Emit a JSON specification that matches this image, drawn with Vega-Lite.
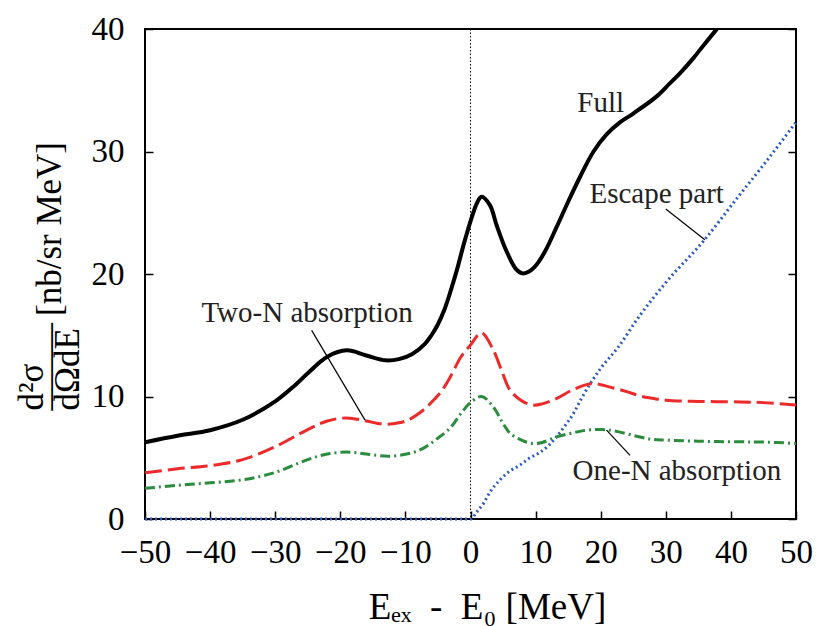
{
  "$schema": "https://vega.github.io/schema/vega-lite/v6.json",
  "width": 651,
  "height": 490,
  "autosize": {"type": "none"},
  "padding": {"left": 145, "top": 29, "right": 22, "bottom": 107},
  "background": "white",
  "config": {
    "view": {"stroke": "black", "strokeWidth": 2},
    "axis": {"grid": false, "domain": false, "ticks": true, "tickColor": "black", "tickWidth": 1.5, "tickSize": -8,
      "labelFont": "Liberation Serif", "labelFontSize": 33, "labelColor": "black", "labelOverlap": false, "labelFlush": false,
      "titleFont": "Liberation Serif", "titleFontWeight": "normal", "titleColor": "black"}
  },
  "resolve": {"axis": {"y": "independent"}},
  "datasets": {
    "curves": [
      {"E": -50, "v": 6.27, "s": "Full"}, {"E": -45, "v": 6.8, "s": "Full"}, {"E": -40, "v": 7.25, "s": "Full"},
      {"E": -35, "v": 8.1, "s": "Full"}, {"E": -30, "v": 9.6, "s": "Full"}, {"E": -27, "v": 10.9, "s": "Full"},
      {"E": -25, "v": 11.9, "s": "Full"}, {"E": -22, "v": 13.25, "s": "Full"}, {"E": -19, "v": 13.77, "s": "Full"},
      {"E": -16, "v": 13.35, "s": "Full"}, {"E": -13, "v": 12.95, "s": "Full"}, {"E": -11, "v": 13.05, "s": "Full"},
      {"E": -9, "v": 13.45, "s": "Full"}, {"E": -7, "v": 14.3, "s": "Full"}, {"E": -6, "v": 15.0, "s": "Full"},
      {"E": -5, "v": 15.9, "s": "Full"}, {"E": -4, "v": 17.1, "s": "Full"}, {"E": -3, "v": 18.7, "s": "Full"},
      {"E": -2, "v": 20.5, "s": "Full"}, {"E": -1, "v": 22.5, "s": "Full"}, {"E": 0, "v": 24.3, "s": "Full"},
      {"E": 1, "v": 25.8, "s": "Full"}, {"E": 1.7, "v": 26.3, "s": "Full"}, {"E": 3, "v": 25.6, "s": "Full"},
      {"E": 4, "v": 24.0, "s": "Full"}, {"E": 5.5, "v": 21.9, "s": "Full"}, {"E": 7, "v": 20.4, "s": "Full"},
      {"E": 8, "v": 20.05, "s": "Full"}, {"E": 9, "v": 20.2, "s": "Full"}, {"E": 10.2, "v": 20.8, "s": "Full"},
      {"E": 11.5, "v": 21.9, "s": "Full"}, {"E": 13.2, "v": 23.8, "s": "Full"}, {"E": 15, "v": 25.9, "s": "Full"},
      {"E": 16.8, "v": 27.9, "s": "Full"}, {"E": 18.9, "v": 30.0, "s": "Full"}, {"E": 20.9, "v": 31.4, "s": "Full"},
      {"E": 23, "v": 32.4, "s": "Full"}, {"E": 25, "v": 33.1, "s": "Full"}, {"E": 28.6, "v": 34.5, "s": "Full"},
      {"E": 30.5, "v": 35.5, "s": "Full"}, {"E": 32.2, "v": 36.4, "s": "Full"}, {"E": 34.2, "v": 37.6, "s": "Full"},
      {"E": 36, "v": 38.8, "s": "Full"}, {"E": 38, "v": 40.1, "s": "Full"}, {"E": 40, "v": 41.4, "s": "Full"},

      {"E": -50, "v": 3.77, "s": "Two"}, {"E": -45, "v": 4.1, "s": "Two"}, {"E": -40, "v": 4.35, "s": "Two"},
      {"E": -35, "v": 4.85, "s": "Two"}, {"E": -30, "v": 5.9, "s": "Two"}, {"E": -25, "v": 7.3, "s": "Two"},
      {"E": -22, "v": 8.0, "s": "Two"}, {"E": -19, "v": 8.25, "s": "Two"}, {"E": -16, "v": 8.0, "s": "Two"},
      {"E": -13.4, "v": 7.74, "s": "Two"}, {"E": -11, "v": 7.85, "s": "Two"}, {"E": -9.5, "v": 8.1, "s": "Two"},
      {"E": -7, "v": 9.0, "s": "Two"}, {"E": -5.5, "v": 9.8, "s": "Two"}, {"E": -4.5, "v": 10.4, "s": "Two"},
      {"E": -3, "v": 11.7, "s": "Two"}, {"E": -1.5, "v": 13.2, "s": "Two"}, {"E": 0, "v": 14.2, "s": "Two"},
      {"E": 1.7, "v": 15.2, "s": "Two"}, {"E": 3.5, "v": 13.8, "s": "Two"}, {"E": 5, "v": 11.8, "s": "Two"},
      {"E": 6.1, "v": 10.5, "s": "Two"}, {"E": 8, "v": 9.6, "s": "Two"}, {"E": 9.6, "v": 9.3, "s": "Two"},
      {"E": 11, "v": 9.4, "s": "Two"}, {"E": 13.2, "v": 9.83, "s": "Two"}, {"E": 15.5, "v": 10.5, "s": "Two"},
      {"E": 17.8, "v": 10.97, "s": "Two"}, {"E": 19, "v": 11.05, "s": "Two"}, {"E": 21.9, "v": 10.7, "s": "Two"},
      {"E": 24, "v": 10.4, "s": "Two"}, {"E": 26, "v": 10.05, "s": "Two"}, {"E": 28, "v": 9.85, "s": "Two"},
      {"E": 30, "v": 9.7, "s": "Two"}, {"E": 35, "v": 9.6, "s": "Two"}, {"E": 41.4, "v": 9.56, "s": "Two"},
      {"E": 45, "v": 9.5, "s": "Two"}, {"E": 50, "v": 9.3, "s": "Two"},

      {"E": -50, "v": 2.5, "s": "One"}, {"E": -45, "v": 2.75, "s": "One"}, {"E": -40, "v": 2.95, "s": "One"},
      {"E": -35, "v": 3.2, "s": "One"}, {"E": -30, "v": 3.8, "s": "One"}, {"E": -25, "v": 4.85, "s": "One"},
      {"E": -22, "v": 5.3, "s": "One"}, {"E": -19, "v": 5.46, "s": "One"}, {"E": -16, "v": 5.3, "s": "One"},
      {"E": -12.4, "v": 5.13, "s": "One"}, {"E": -9, "v": 5.4, "s": "One"}, {"E": -7, "v": 5.85, "s": "One"},
      {"E": -5, "v": 6.6, "s": "One"}, {"E": -3, "v": 7.5, "s": "One"}, {"E": -1.5, "v": 8.6, "s": "One"},
      {"E": 0, "v": 9.5, "s": "One"}, {"E": 1.7, "v": 10.0, "s": "One"}, {"E": 3.5, "v": 9.15, "s": "One"},
      {"E": 5, "v": 7.8, "s": "One"}, {"E": 6.1, "v": 6.98, "s": "One"}, {"E": 8, "v": 6.4, "s": "One"},
      {"E": 9.6, "v": 6.17, "s": "One"}, {"E": 11, "v": 6.25, "s": "One"}, {"E": 13.2, "v": 6.7, "s": "One"},
      {"E": 15.5, "v": 7.0, "s": "One"}, {"E": 17.8, "v": 7.25, "s": "One"}, {"E": 20, "v": 7.3, "s": "One"},
      {"E": 22, "v": 7.2, "s": "One"}, {"E": 25.5, "v": 6.76, "s": "One"}, {"E": 28, "v": 6.5, "s": "One"},
      {"E": 30, "v": 6.44, "s": "One"}, {"E": 35, "v": 6.35, "s": "One"}, {"E": 41.4, "v": 6.3, "s": "One"},
      {"E": 45, "v": 6.28, "s": "One"}, {"E": 50, "v": 6.17, "s": "One"},

      {"E": -50, "v": 0, "s": "Escape"}, {"E": 0, "v": 0, "s": "Escape"}, {"E": 1, "v": 0.6, "s": "Escape"},
      {"E": 2, "v": 1.28, "s": "Escape"}, {"E": 3, "v": 2.2, "s": "Escape"}, {"E": 4.5, "v": 3.18, "s": "Escape"},
      {"E": 6, "v": 3.9, "s": "Escape"}, {"E": 7.6, "v": 4.4, "s": "Escape"}, {"E": 9, "v": 4.95, "s": "Escape"},
      {"E": 10.7, "v": 5.45, "s": "Escape"}, {"E": 12, "v": 6.0, "s": "Escape"}, {"E": 13.2, "v": 6.7, "s": "Escape"},
      {"E": 14.5, "v": 7.6, "s": "Escape"}, {"E": 15.8, "v": 8.6, "s": "Escape"}, {"E": 17, "v": 9.8, "s": "Escape"},
      {"E": 18.4, "v": 11.05, "s": "Escape"}, {"E": 20, "v": 12.3, "s": "Escape"}, {"E": 22.5, "v": 13.9, "s": "Escape"},
      {"E": 26, "v": 16.6, "s": "Escape"}, {"E": 30, "v": 19.3, "s": "Escape"}, {"E": 35.8, "v": 22.7, "s": "Escape"},
      {"E": 41.4, "v": 26.5, "s": "Escape"}, {"E": 45, "v": 28.9, "s": "Escape"}, {"E": 50, "v": 32.4, "s": "Escape"}
    ],
    "labels": [
      {"E": 20.0, "v": 34.0, "label": "Full"},
      {"E": 28.6, "v": 26.5, "label": "Escape part"},
      {"E": -25.1, "v": 16.8, "label": "Two-N absorption"},
      {"E": 31.7, "v": 3.9, "label": "One-N absorption"}
    ],
    "leaders": [
      {"E": 30.0, "v": 25.3, "E2": 36.0, "v2": 22.8},
      {"E": -24.4, "v": 15.4, "E2": -16.2, "v2": 8.07},
      {"E": 24.5, "v": 5.2, "E2": 20.9, "v2": 7.25}
    ]
  },
  "layer": [
    {
      "data": {"values": [{"E": 0}]},
      "mark": {"type": "rule", "color": "black", "strokeWidth": 1, "strokeDash": [1.5, 2]},
      "encoding": {
        "x": {"field": "E", "type": "quantitative", "scale": {"domain": [-50, 50], "nice": false},
          "axis": {"values": [-50, -40, -30, -20, -10, 0, 10, 20, 30, 40, 50], "labelPadding": 25,
            "title": "Eₑₓ\u2002-\u2002E₀ [MeV]", "titleFontSize": 37, "titleX": 342, "titleY": 99, "titleBaseline": "alphabetic"}}
      }
    },
    {
      "data": {"name": "curves"},
      "transform": [{"filter": "datum.s === 'Escape'"}],
      "mark": {"type": "line", "color": "#2a5cbf", "strokeWidth": 3, "strokeDash": [2, 3], "interpolate": "monotone", "clip": false},
      "encoding": {
        "x": {"field": "E", "type": "quantitative"},
        "y": {"field": "v", "type": "quantitative", "scale": {"domain": [0, 40], "nice": false},
          "axis": {"orient": "left", "values": [0, 10, 20, 30, 40], "labelPadding": 29,
            "title": ["\u2002\u2009d²σ", "——–\u2009[nb/sr MeV]", "dΩdE"],
            "titleFontSize": 35, "titleAngle": 270, "titleAlign": "left", "titleBaseline": "alphabetic",
            "titleX": -103, "titleY": 381, "titleLineHeight": 18}}
      }
    },
    {
      "data": {"name": "curves"},
      "transform": [{"filter": "datum.s === 'One'"}],
      "mark": {"type": "line", "color": "#2a8c3c", "strokeWidth": 3, "strokeDash": [10, 4, 2, 4], "interpolate": "catmull-rom", "clip": true},
      "encoding": {
        "x": {"field": "E", "type": "quantitative"},
        "y": {"field": "v", "type": "quantitative", "axis": {"orient": "right", "labels": false, "title": null, "values": [0, 10, 20, 30, 40]}}
      }
    },
    {
      "data": {"name": "curves"},
      "transform": [{"filter": "datum.s === 'Two'"}],
      "mark": {"type": "line", "color": "#ec2a2a", "strokeWidth": 3, "strokeDash": [17, 6], "interpolate": "catmull-rom", "clip": true},
      "encoding": {
        "x": {"field": "E", "type": "quantitative"},
        "y": {"field": "v", "type": "quantitative", "axis": null}
      }
    },
    {
      "data": {"name": "curves"},
      "transform": [{"filter": "datum.s === 'Full'"}],
      "mark": {"type": "line", "color": "black", "strokeWidth": 4, "interpolate": "catmull-rom", "clip": true},
      "encoding": {
        "x": {"field": "E", "type": "quantitative"},
        "y": {"field": "v", "type": "quantitative", "axis": null}
      }
    },
    {
      "data": {"name": "leaders"},
      "mark": {"type": "rule", "color": "black", "strokeWidth": 1.2},
      "encoding": {
        "x": {"field": "E", "type": "quantitative"},
        "y": {"field": "v", "type": "quantitative", "axis": null},
        "x2": {"field": "E2"},
        "y2": {"field": "v2"}
      }
    },
    {
      "data": {"name": "labels"},
      "mark": {"type": "text", "font": "Liberation Serif", "fontSize": 29, "color": "#222", "align": "center", "baseline": "middle"},
      "encoding": {
        "x": {"field": "E", "type": "quantitative"},
        "y": {"field": "v", "type": "quantitative", "axis": null},
        "text": {"field": "label"}
      }
    }
  ]
}
